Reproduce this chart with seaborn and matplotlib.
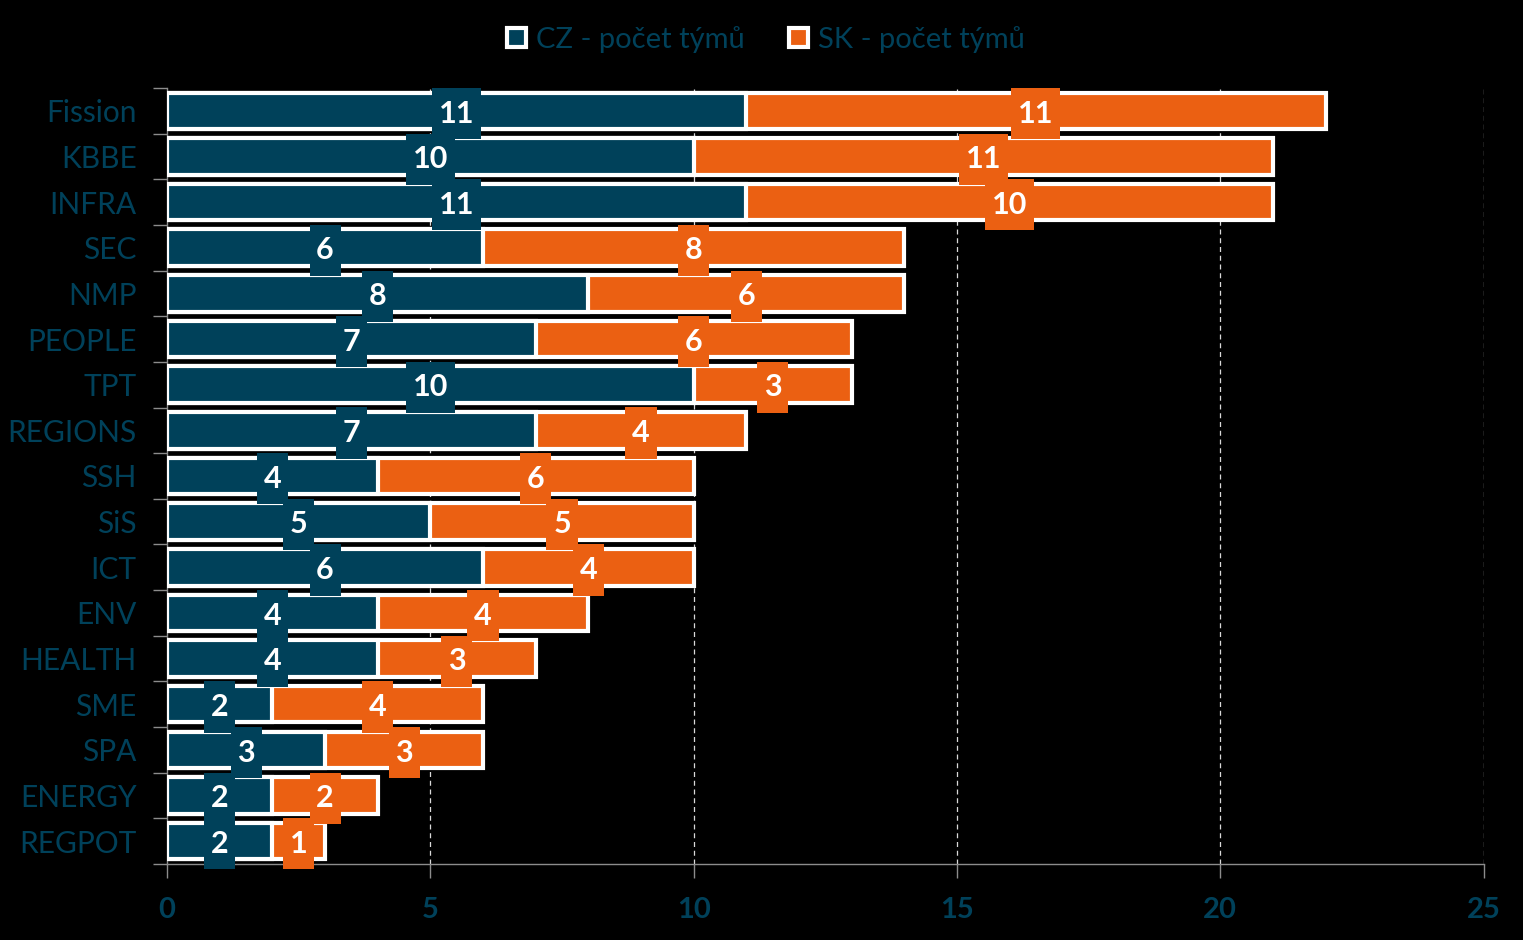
import matplotlib
matplotlib.use("Agg")
import matplotlib.pyplot as plt
import numpy as np
import pandas as pd
import seaborn as sns
from matplotlib.patches import Patch
from matplotlib.path import Path

CATEGORIES = ["Fission", "KBBE", "INFRA", "SEC", "NMP", "PEOPLE", "TPT", "REGIONS",
              "SSH", "SiS", "ICT", "ENV", "HEALTH", "SME", "SPA", "ENERGY", "REGPOT"]
CZ_TEAMS = [11, 10, 11, 6, 8, 7, 10, 7, 4, 5, 6, 4, 4, 2, 3, 2, 2]
SK_TEAMS = [11, 11, 10, 8, 6, 6, 3, 4, 6, 5, 4, 4, 3, 4, 3, 2, 1]
SERIES_NAMES = ["CZ - počet týmů", "SK - počet týmů"]
X_TICKS = [0, 5, 10, 15, 20, 25]

TEAL = "#00415A"
ORANGE = "#EB6012"
GREY = "#8C8C8C"


def label_box(x0, y0, width, height, mutation_size):
    # narrow sideways, tall enough to fill the whole row
    px, py = 0.22 * mutation_size, 0.38 * mutation_size
    x0, y0 = x0 - px, y0 - py
    x1, y1 = x0 + width + 2 * px, y0 + height + 2 * py
    return Path([(x0, y0), (x1, y0), (x1, y1), (x0, y1), (x0, y0)], closed=True)


sns.set_theme(style="white")
plt.rcParams["font.family"] = ["Lato", "DejaVu Sans"]

df = pd.DataFrame({"category": CATEGORIES, "cz": CZ_TEAMS, "sk": SK_TEAMS})
df["total"] = df["cz"] + df["sk"]

fig = plt.figure(figsize=(15.23, 9.40), dpi=100, facecolor="black")
ax = fig.add_axes([0.1097, 0.0809, 0.8644, 0.8255])
ax.set_facecolor("black")

for x in X_TICKS[1:]:
    ax.axvline(x, color="#D9D9D9", linestyle=(0, (4, 3)), linewidth=0.9, zorder=0)

sns.barplot(data=df, y="category", x="total", orient="h", color=ORANGE, saturation=1,
            edgecolor="white", linewidth=3, width=0.8, ax=ax, zorder=2)
sns.barplot(data=df, y="category", x="cz", orient="h", color=TEAL, saturation=1,
            edgecolor="white", linewidth=3, width=0.8, ax=ax, zorder=3)

for i, row in df.iterrows():
    for x, val, col in [(row["cz"] / 2, row["cz"], TEAL),
                        (row["cz"] + row["sk"] / 2, row["sk"], ORANGE)]:
        ax.text(x, i + 0.06, str(val), ha="center", va="center", color="white",
                fontsize=22, fontweight="bold", zorder=5,
                bbox=dict(boxstyle=label_box, facecolor=col, edgecolor="none"))

ax.set_xlim(0, 25)
ax.set_ylim(len(CATEGORIES) - 0.5, -0.5)
ax.set_xticks(X_TICKS)
ax.set_xticklabels([str(t) for t in X_TICKS], color=TEAL, fontsize=21, fontweight="bold")
ax.tick_params(axis="x", length=10, color=GREY, width=1, pad=14, bottom=True)
ax.set_yticks(np.arange(len(CATEGORIES)))
ax.set_yticklabels(CATEGORIES, color=TEAL, fontsize=21.5)
ax.tick_params(axis="y", which="major", length=0, pad=22)
ax.set_yticks(np.arange(len(CATEGORIES) + 1) - 0.5, minor=True)
ax.tick_params(axis="y", which="minor", length=10, color=GREY, width=1, left=True)
ax.set_xlabel("")
ax.set_ylabel("")

for side in ["top", "right"]:
    ax.spines[side].set_visible(False)
for side in ["left", "bottom"]:
    ax.spines[side].set_color(GREY)
    ax.spines[side].set_linewidth(1)

handles = [Patch(facecolor=TEAL, edgecolor="white", linewidth=3),
           Patch(facecolor=ORANGE, edgecolor="white", linewidth=3)]
leg = fig.legend(handles, SERIES_NAMES, loc="center", bbox_to_anchor=(0.503, 0.958), ncol=2,
                 frameon=False, fontsize=21, handlelength=0.65, handleheight=0.65,
                 handletextpad=0.35, columnspacing=1.5)
for t in leg.get_texts():
    t.set_color(TEAL)

fig.savefig("out.png", dpi=100, facecolor="black")
